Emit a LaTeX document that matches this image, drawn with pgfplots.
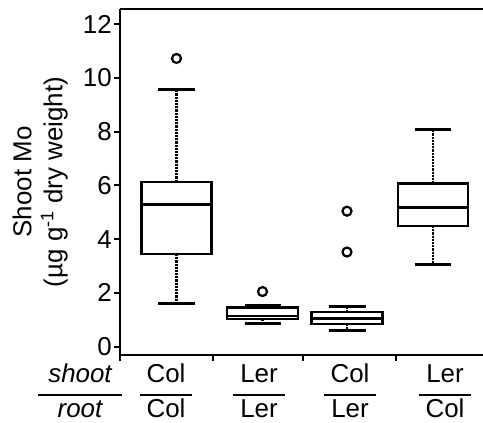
\documentclass[border=0pt]{standalone}
\usepackage{fontspec}
\setmainfont{Liberation Sans}
\usepackage{pgfplots}
\pgfplotsset{compat=1.18}
\usepgfplotslibrary{statistics}

\newcommand{\bigfont}{\fontsize{26}{31}\selectfont}
% genotype pair: shoot over root
\newcommand{\fr}[3][7bp]{{\setlength\arrayrulewidth{2bp}%
  \begin{tabular}{@{\hspace{#1}}c@{\hspace{#1}}}#2\\[2bp]\hline #3\end{tabular}}}

\pgfplotsset{
  boxplot/draw/lower whisker/.code={
    \draw[densely dotted, line width=2.2bp]
      (boxplot cs:\pgfplotsboxplotvalue{lower quartile}) --
      (boxplot cs:\pgfplotsboxplotvalue{lower whisker});
    \draw[solid, line width=3bp]
      (boxplot whisker cs:\pgfplotsboxplotvalue{lower whisker},0) --
      (boxplot whisker cs:\pgfplotsboxplotvalue{lower whisker},1);
  },
  boxplot/draw/upper whisker/.code={
    \draw[densely dotted, line width=2.2bp]
      (boxplot cs:\pgfplotsboxplotvalue{upper quartile}) --
      (boxplot cs:\pgfplotsboxplotvalue{upper whisker});
    \draw[solid, line width=3bp]
      (boxplot whisker cs:\pgfplotsboxplotvalue{upper whisker},0) --
      (boxplot whisker cs:\pgfplotsboxplotvalue{upper whisker},1);
  },
  boxplot/every box/.style={solid, line width=2.2bp},
  boxplot/every median/.style={solid, line width=2.2bp},
  bx/.style={black, solid, line width=2bp, mark=o, mark size=4.5bp,
    mark options={line width=2.2bp}},
}

\begin{document}
\begin{tikzpicture}
\useasboundingbox (-120bp,-68bp) rectangle (363bp,355bp);
\begin{axis}[
    scale only axis,
    width=363bp, height=346bp,
    xmin=0, xmax=363,
    ymin=-0.31, ymax=12.56,
    boxplot/draw direction=y,
    axis lines=left,
    axis line style={-, line width=2.2bp},
    xtick={0,93,183,276},
    xticklabels={},
    ytick={0,2,...,12},
    tick align=outside,
    major tick length=6bp,
    tick style={black, line width=2bp},
    tick label style={font=\bigfont},
    /pgf/number format/assume math mode=true,
    yticklabel style={inner sep=0pt, xshift=-2bp},
    ylabel={Shoot Mo\\(µg g\textsuperscript{-1} dry weight)},
    ylabel style={align=center, font=\bigfont,
      at={(axis description cs:-0.22,0.5)}, anchor=center},
    clip=false,
]
% Col/Col
\addplot[bx, boxplot prepared={draw position=56.5, median=5.29,
    upper quartile=6.13, lower quartile=3.45,
    upper whisker=9.57, lower whisker=1.61,
    box extend=70, whisker extend=37}]
  table[row sep=\\, y index=0] {v\\10.72\\};
% Ler/Ler
\addplot[bx, boxplot prepared={draw position=142.5, median=1.14,
    upper quartile=1.46, lower quartile=1.02,
    upper whisker=1.53, lower whisker=0.87,
    box extend=71, whisker extend=36}]
  table[row sep=\\, y index=0] {v\\2.05\\};
% Col/Ler
\addplot[bx, boxplot prepared={draw position=227, median=1.05,
    upper quartile=1.30, lower quartile=0.84,
    upper whisker=1.51, lower whisker=0.59,
    box extend=71, whisker extend=37}]
  table[row sep=\\, y index=0] {v\\5.04\\3.52\\};
% Ler/Col
\addplot[bx, boxplot prepared={draw position=313, median=5.18,
    upper quartile=6.07, lower quartile=4.49,
    upper whisker=8.06, lower whisker=3.04,
    box extend=70, whisker extend=36}]
  coordinates {};

\draw[line width=2.2bp] (rel axis cs:0,1) -- (rel axis cs:1,1);

\begin{scope}[every node/.style={anchor=north, inner sep=0pt, font=\bigfont, yshift=-6bp}]
\node at (axis cs:-40,-0.31) {\fr[10bp]{\itshape shoot}{\itshape root}};
\node at (axis cs:46,-0.31) {\fr{Col}{Col}};
\node at (axis cs:139,-0.31) {\fr{Ler}{Ler}};
\node at (axis cs:230,-0.31) {\fr{Col}{Ler}};
\node at (axis cs:325,-0.31) {\fr{Ler}{Col}};
\end{scope}
\end{axis}
\end{tikzpicture}
\end{document}
